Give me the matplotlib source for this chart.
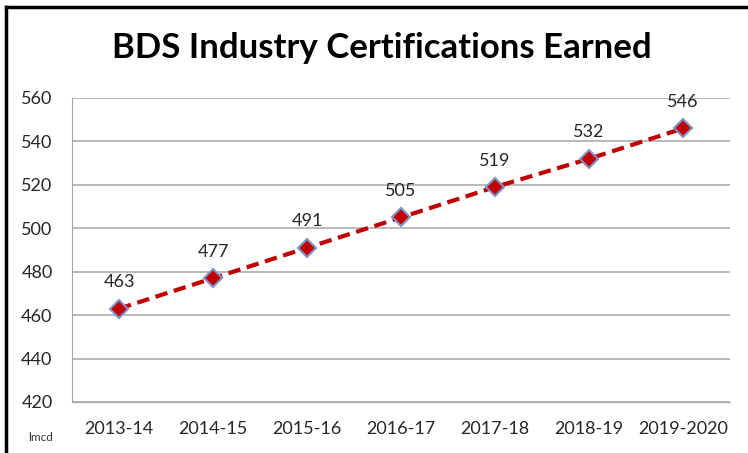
import matplotlib
matplotlib.use("Agg")
import matplotlib.pyplot as plt
from matplotlib.lines import Line2D

# Data
years = ["2013-14", "2014-15", "2015-16", "2016-17", "2017-18", "2018-19", "2019-2020"]
earned = [463, 477, 491, 505, 519, 532, 546]
y_ticks = [420, 440, 460, 480, 500, 520, 540, 560]

plt.rcParams["font.family"] = ["Lato", "DejaVu Sans"]

fig = plt.figure(figsize=(7.48, 4.53), dpi=100)
ax = fig.add_axes([0.0963, 0.1126, 0.8797, 0.6711])

x = list(range(len(years)))
ax.plot(x, earned, color="#C00000", linestyle=(0, (3, 1.6)), linewidth=3,
        marker="D", markersize=9, markerfacecolor="#C00000",
        markeredgecolor="#7F93C6", markeredgewidth=1.5, zorder=3)

for xi, v in zip(x, earned):
    ax.annotate(str(v), (xi, v), xytext=(0, 19), textcoords="offset points",
                ha="center", va="center", fontsize=13, color="#262626")

ax.set_xlim(-0.5, len(years) - 0.5)
ax.set_ylim(420, 560)
ax.set_yticks(y_ticks)
ax.set_xticks(x)
ax.set_xticklabels(years)
ax.tick_params(axis="both", length=0, labelsize=13, labelcolor="#262626")
ax.tick_params(axis="y", pad=14)
ax.tick_params(axis="x", pad=14)
ax.grid(axis="y", color="#A6A6A6", linewidth=1.1)
ax.set_axisbelow(True)
for side in ["top", "right"]:
    ax.spines[side].set_visible(False)
ax.spines["left"].set_color("#A6A6A6")
ax.spines["bottom"].set_color("#A6A6A6")

fig.text(0.511, 0.893, "BDS Industry Certifications Earned", ha="center",
         va="center", fontsize=25, fontweight="bold", color="black")
fig.text(0.037, 0.022, "lmcd", fontsize=8.5, color="#333333", va="bottom")

# frame around the picture (left and top edges)
fig.add_artist(Line2D([0.0085, 0.0085], [0, 0.985], color="black", linewidth=2.5,
                      transform=fig.transFigure))
fig.add_artist(Line2D([0.0085, 1.0], [0.985, 0.985], color="black", linewidth=2.5,
                      transform=fig.transFigure))

fig.savefig("out.png", dpi=100)
